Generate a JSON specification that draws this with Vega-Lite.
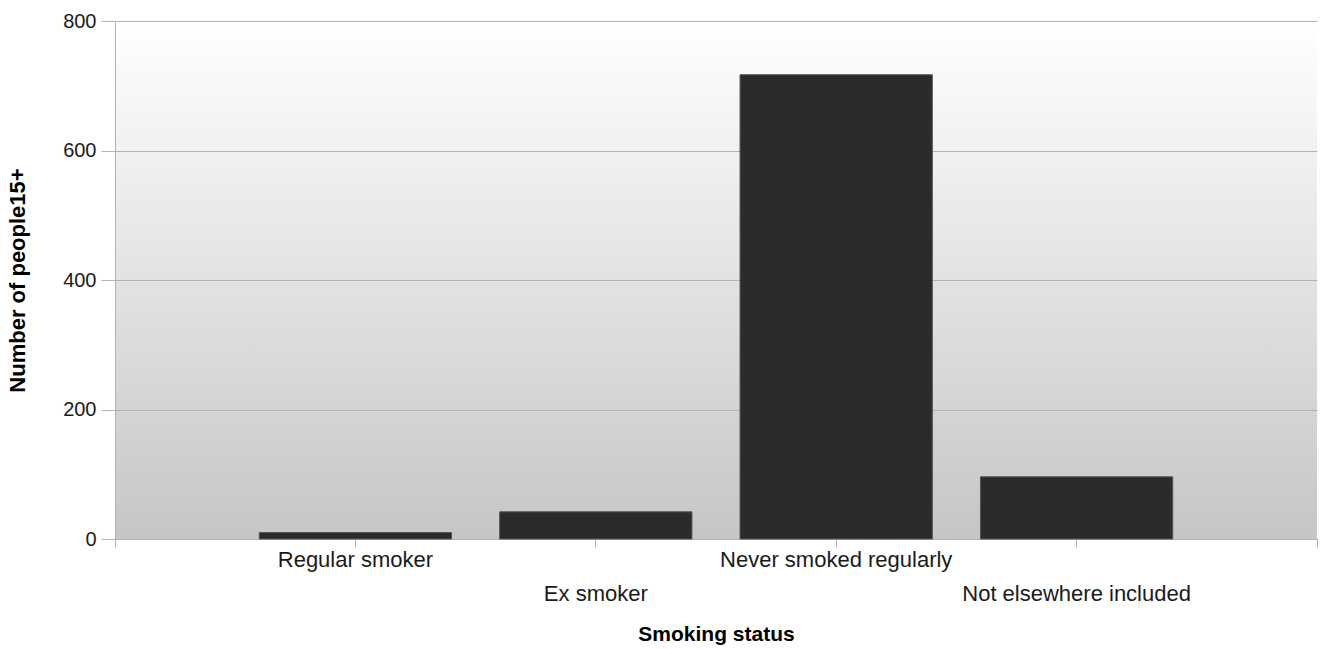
{
  "$schema": "https://vega.github.io/schema/vega-lite/v6.json",
  "autosize": "none",
  "width": 1202,
  "height": 518,
  "padding": {"left": 115, "top": 21, "right": 9, "bottom": 110},
  "background": "white",
  "config": {
    "view": {
      "stroke": null,
      "fill": {"gradient": "linear", "x1": 0, "y1": 0, "x2": 0, "y2": 1,
        "stops": [{"offset": 0, "color": "#ffffff"}, {"offset": 1, "color": "#c6c6c6"}]}
    },
    "font": "Liberation Sans",
    "axis": {
      "domainColor": "#b3b3b3",
      "tickColor": "#b3b3b3",
      "gridColor": "#b3b3b3",
      "labelColor": "#1a1a1a",
      "titleColor": "#000000",
      "labelFont": "Liberation Sans",
      "titleFont": "Liberation Sans",
      "titleFontWeight": "bold"
    }
  },
  "data": {
    "values": [
      {"status": "Regular smoker", "count": 10},
      {"status": "Ex smoker", "count": 42},
      {"status": "Never smoked regularly", "count": 717},
      {"status": "Not elsewhere included", "count": 96}
    ]
  },
  "layer": [
    {
      "mark": {"type": "bar", "fill": "#2b2b2b", "stroke": "#575757", "strokeWidth": 1},
      "encoding": {
        "x": {
          "field": "status",
          "type": "nominal",
          "sort": null,
          "scale": {"paddingInner": 0.2, "paddingOuter": 0.6},
          "axis": {
            "orient": "bottom",
            "title": "Smoking status",
            "titleFontSize": 21,
            "titlePadding": 19,
            "labelFontSize": 22,
            "labelAngle": 0,
            "labelPadding": 2,
            "labelLineHeight": 34,
            "labelLimit": 0,
            "labelExpr": "(datum.value == 'Ex smoker' || datum.value == 'Not elsewhere included') ? ['', datum.label] : datum.label",
            "tickSize": 8,
            "grid": false,
            "labelOverlap": false
          }
        },
        "y": {
          "field": "count",
          "type": "quantitative",
          "scale": {"domain": [0, 800]},
          "axis": {
            "title": "Number of people15+",
            "titleFontSize": 22,
            "titlePadding": 33,
            "values": [0, 200, 400, 600, 800],
            "labelFontSize": 20,
            "labelPadding": 5,
            "tickSize": 14,
            "grid": true
          }
        }
      }
    },
    {
      "mark": {"type": "rule", "opacity": 0},
      "encoding": {
        "x": {
          "datum": 0,
          "type": "quantitative",
          "scale": {"domain": [0, 1]},
          "axis": {
            "orient": "bottom",
            "values": [0, 1],
            "labels": false,
            "domain": false,
            "grid": false,
            "title": null,
            "tickSize": 8
          }
        }
      }
    }
  ],
  "resolve": {"scale": {"x": "independent"}, "axis": {"x": "independent"}}
}
